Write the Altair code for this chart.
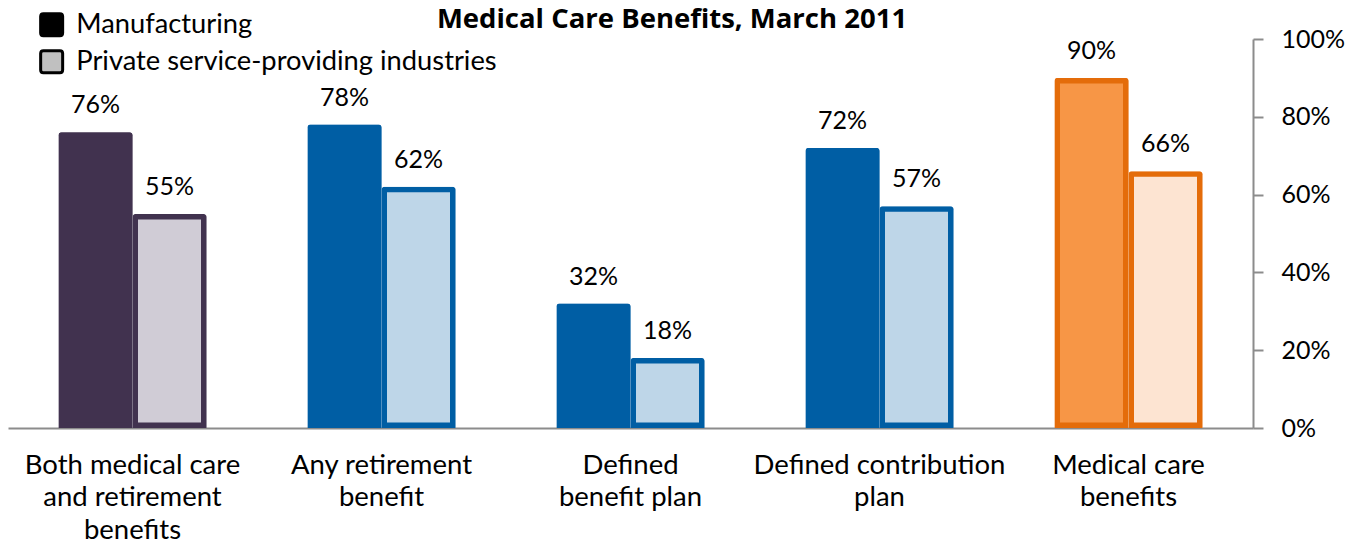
import altair as alt
import pandas as pd

title_text = "Medical Care Benefits, March 2011"
categories = [
    "Both medical care|and retirement|benefits",
    "Any retirement|benefit",
    "Defined|benefit plan",
    "Defined contribution|plan",
    "Medical care|benefits",
]
series = ["Manufacturing", "Private service-providing industries"]
manufacturing = [76, 78, 32, 72, 90]
private_service = [55, 62, 18, 57, 66]

dark_fill = ["#41324F", "#005EA4", "#005EA4", "#005EA4", "#F79646"]
light_fill = ["#D0CCD6", "#BED6E8", "#BED6E8", "#BED6E8", "#FDE4D2"]
edge = ["#41324F", "#005EA4", "#005EA4", "#005EA4", "#E46C0A"]

rows = []
for i, c in enumerate(categories):
    rows.append(dict(category=c, series=series[0], value=manufacturing[i] / 100,
                     fillc=dark_fill[i], strokec=edge[i]))
    rows.append(dict(category=c, series=series[1], value=private_service[i] / 100,
                     fillc=light_fill[i], strokec=edge[i]))
df = pd.DataFrame(rows)

FONT = "Lato"

x_enc = alt.X(
    "category:N", sort=categories,
    scale=alt.Scale(paddingInner=0.4056, paddingOuter=0.2028),
    axis=alt.Axis(title=None, labelAngle=0, ticks=False, domainColor="#8C8C8C",
                  domainWidth=2, labelFont=FONT, labelFontSize=27.5, labelColor="#000",
                  labelPadding=23, labelLineHeight=32.5, labelLimit=500,
                  labelExpr="split(datum.label, '|')"),
)
xo_enc = alt.XOffset("series:N", sort=series, scale=alt.Scale(paddingInner=0, paddingOuter=0))
y_enc = alt.Y(
    "value:Q", scale=alt.Scale(domain=[0, 1], nice=False),
    axis=alt.Axis(title=None, orient="right", values=[0, 0.2, 0.4, 0.6, 0.8, 1.0],
                  format=".0%", grid=False, domainColor="#8C8C8C", domainWidth=2,
                  tickColor="#8C8C8C", tickWidth=2, tickSize=10, labelPadding=18,
                  labelFont=FONT, labelFontSize=25, labelColor="#000"),
)

base = alt.Chart(df)

bars = base.mark_bar(strokeWidth=11, cornerRadiusTopLeft=3, cornerRadiusTopRight=3,
                     strokeOpacity=1).encode(
    x=x_enc, xOffset=xo_enc, y=y_enc,
    fill=alt.Fill("fillc:N", scale=None),
    stroke=alt.Stroke("strokec:N", scale=None),
)

labels = base.mark_text(dy=-19, baseline="alphabetic", font=FONT, fontSize=25, color="#000").encode(
    x=x_enc, xOffset=xo_enc, y=y_enc,
    text=alt.Text("value:Q", format=".0%"),
)

rounded_sq = "M-0.75,-1H0.75Q1,-1,1,-0.75V0.75Q1,1,0.75,1H-0.75Q-1,1,-1,0.75V-0.75Q-1,-1,-0.75,-1Z"

legend_layer = base.mark_point(filled=True, opacity=0, shape="square").encode(
    x=x_enc, xOffset=xo_enc, y=y_enc,
    color=alt.Color("series:N", scale=alt.Scale(domain=series, range=["#000000", "#C0C0C0"]),
                    legend=alt.Legend(title=None, orient="none", legendX=30, legendY=-28,
                                      symbolType=rounded_sq, symbolSize=484,
                                      symbolStrokeColor="#000", symbolStrokeWidth=3,
                                      symbolOpacity=1, labelFont=FONT, labelFontSize=27.3,
                                      labelColor="#000", labelOffset=11, rowPadding=2,
                                      labelLimit=600)),
)

title_layer = alt.Chart(pd.DataFrame({"t": [title_text]})).mark_text(
    font="Open Sans", fontSize=27.5, fontWeight="bold", color="#000", align="center",
    baseline="alphabetic",
).encode(text="t:N", x=alt.value(664), y=alt.value(-11))

chart = alt.layer(bars, labels, legend_layer, title_layer).properties(
    width=1245, height=389,
    padding={"left": 0, "top": 31, "right": 95, "bottom": 112},
    autosize=alt.AutoSizeParams(type="none"),
).configure_view(stroke=None)

chart.save("out.html", embed_options={"renderer": "svg", "actions": False})
